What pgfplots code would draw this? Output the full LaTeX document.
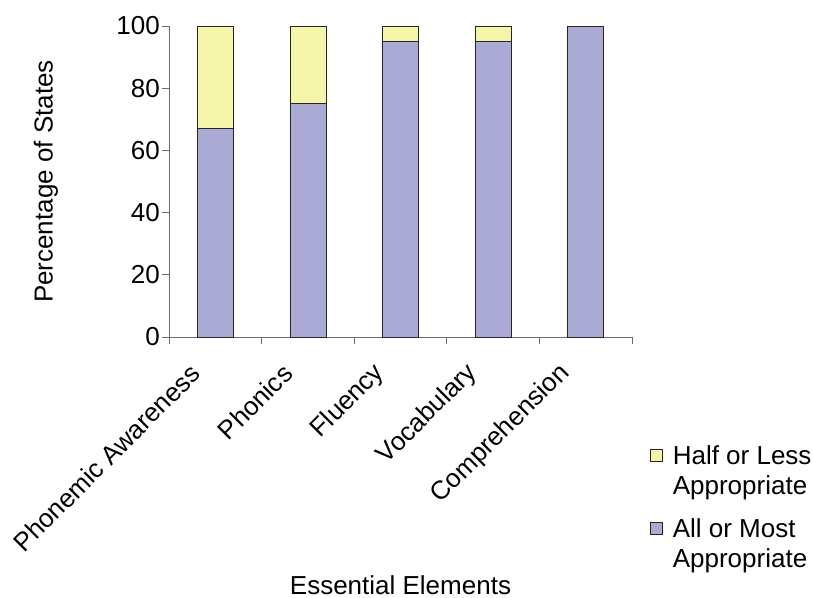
\documentclass[border=0pt]{standalone}
\usepackage{fontspec}
\setmainfont{Liberation Sans}
\usepackage{pgfplots}
\pgfplotsset{compat=1.18}

\definecolor{allmost}{HTML}{AAAAD4}
\definecolor{halfless}{HTML}{F5F5AA}
\definecolor{axisgray}{HTML}{6E6E6E}

\begin{document}
\fontsize{26}{30}\selectfont
\begin{tikzpicture}[x=1pt,y=1pt]
\useasboundingbox (0,0) rectangle (813,-597);
\begin{axis}[
  at={(169pt,-337pt)}, anchor=south west,
  width=463pt, height=311pt, scale only axis,
  ybar stacked, bar width=36pt,
  xmin=0.5, xmax=5.5, ymin=0, ymax=100,
  ytick={0,20,...,100},
  xtick={0.5,1.5,...,5.5},
  xticklabels={,,,,,},
  extra x ticks={1,2,3,4,5},
  extra x tick labels={Phonemic Awareness,Phonics,Fluency,Vocabulary,Comprehension},
  extra x tick style={major tick length=0pt},
  xticklabel style={xshift=-20pt, yshift=-32pt, rotate=45, anchor=east, inner sep=0pt},
  yticklabel style={inner sep=0pt, xshift=-2pt},
  /pgf/number format/assume math mode=true,
  axis x line*=bottom, axis y line*=left,
  axis line style={-, axisgray, line width=1pt},
  tick align=outside, major tick length=7pt,
  tick style={axisgray, line width=1pt},
  xlabel={Essential Elements},
  xlabel style={at={(axis description cs:0.5,-0.8264)}, anchor=base},
  ylabel={Percentage of States},
  ylabel style={at={(axis description cs:-0.2657,0.5)}, anchor=center},
  reverse legend,
  legend image code/.code={\draw[#1] (0pt,33pt) rectangle (12pt,45pt);},
  legend style={at={(1.0389,-0.344)}, anchor=north west, draw=none, fill=none,
    inner sep=0pt, outer sep=0pt, column sep=8pt, row sep=16pt,
    cells={anchor=base west, align=left, inner sep=0pt}},
]
% states rating each element as (all or most) appropriate
\addplot[fill=allmost, draw=black!85, line width=0.8pt]
  coordinates {(1,67) (2,75) (3,95) (4,95) (5,100)};
\addlegendentry{All or Most\\Appropriate}
% states rating each element as half or less appropriate
\addplot[fill=halfless, draw=black!85, line width=0.8pt]
  coordinates {(1,33) (2,25) (3,5) (4,5) (5,0)};
\addlegendentry{Half or Less\\Appropriate}
\end{axis}
\end{tikzpicture}
\end{document}
